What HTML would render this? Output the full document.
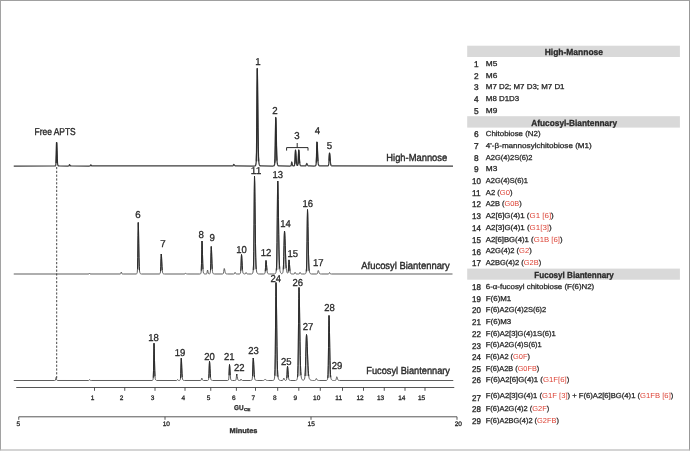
<!DOCTYPE html>
<html><head><meta charset="utf-8"><title>Glycan electropherograms</title>
<style>
html,body{margin:0;padding:0;background:#fff;}
body{width:690px;height:451px;overflow:hidden;position:relative;font-family:"Liberation Sans",sans-serif;}
#frame{position:absolute;left:0;top:0;width:690px;height:451px;box-sizing:border-box;border-left:1px solid #a2a2a2;border-top:1px solid #a0a0a0;border-right:1px solid #989898;border-bottom:2px solid #d4d4d4;}
svg{position:absolute;left:0;top:0;will-change:transform;opacity:0.999;}
svg text{font-family:"Liberation Sans",sans-serif;white-space:pre;text-rendering:geometricPrecision;}
</style></head><body>
<svg width="690" height="451" viewBox="0 0 690 451">
<path d="M13.75 166.00 L54.75 165.99 L55.00 165.97 L55.25 165.90 L55.50 165.71 L55.75 165.19 L56.00 162.99 L56.25 154.65 L56.50 142.60 L56.75 142.60 L57.00 150.29 L57.25 158.37 L57.50 162.99 L57.75 164.80 L58.00 165.43 L58.25 165.71 L58.50 165.86 L58.75 165.94 L59.00 165.97 L59.25 165.99 L68.25 166.00 L68.50 165.98 L68.75 165.95 L69.00 165.77 L69.25 165.15 L69.50 164.60 L69.75 164.88 L70.00 165.41 L70.25 165.77 L70.50 165.92 L70.75 165.97 L71.00 165.98 L71.25 165.99 L89.50 166.00 L89.75 165.99 L90.00 165.96 L90.25 165.81 L90.50 165.27 L90.75 164.80 L91.00 165.04 L91.25 165.49 L91.50 165.81 L91.75 165.93 L92.00 165.97 L92.25 165.99 L92.50 165.99 L231.75 165.99 L232.00 165.99 L232.25 165.98 L232.50 165.95 L232.75 165.89 L233.00 165.71 L233.25 165.30 L233.50 164.77 L233.75 164.50 L234.00 164.62 L234.25 164.94 L234.50 165.30 L234.75 165.60 L235.00 165.79 L235.25 165.89 L235.50 165.94 L235.75 165.96 L236.00 165.98 L236.25 165.99 L236.50 165.99 L254.50 166.00 L254.75 165.99 L255.00 165.95 L255.25 165.85 L255.50 165.60 L255.75 165.07 L256.00 163.97 L256.25 161.24 L256.50 152.26 L256.75 127.68 L257.00 89.32 L257.25 68.50 L257.50 78.41 L257.75 102.21 L258.00 127.68 L258.25 146.22 L258.50 156.49 L258.75 161.24 L259.00 163.36 L259.25 164.43 L259.50 165.07 L259.75 165.47 L260.00 165.71 L260.25 165.85 L260.50 165.93 L260.75 165.97 L261.00 165.99 L261.25 165.99 L273.00 166.00 L273.25 165.99 L273.50 165.96 L273.75 165.90 L274.00 165.75 L274.25 165.44 L274.50 164.82 L274.75 163.23 L275.00 158.20 L275.25 145.55 L275.50 127.14 L275.75 117.50 L276.00 122.06 L276.25 133.21 L276.50 145.55 L276.75 154.98 L277.00 160.52 L277.25 163.23 L277.50 164.47 L277.75 165.08 L278.00 165.44 L278.25 165.67 L278.50 165.81 L278.75 165.90 L279.00 165.95 L279.25 165.97 L279.50 165.99 L279.75 165.99 L290.00 166.00 L290.25 165.99 L290.50 165.96 L290.75 165.90 L291.00 165.71 L291.25 164.93 L291.50 163.17 L291.75 162.00 L292.00 162.57 L292.25 163.82 L292.50 164.93 L292.75 165.55 L293.00 165.80 L293.25 165.90 L293.50 165.93 L293.75 165.92 L294.00 165.85 L294.25 165.70 L294.50 165.30 L294.75 163.95 L295.00 160.03 L295.25 153.59 L295.50 150.00 L295.75 151.72 L296.00 155.78 L296.25 160.03 L296.50 163.00 L296.75 164.57 L297.00 165.25 L297.25 165.48 L297.50 165.47 L297.75 165.17 L298.00 163.88 L298.25 159.99 L298.50 153.57 L298.75 149.99 L299.00 151.71 L299.25 155.78 L299.50 160.03 L299.75 163.01 L300.00 164.59 L300.25 165.30 L300.50 165.61 L300.75 165.77 L301.00 165.87 L301.25 165.93 L301.50 165.96 L301.75 165.98 L302.00 165.99 L304.75 165.99 L305.00 165.98 L305.25 165.96 L305.50 165.92 L305.75 165.82 L306.00 165.51 L306.25 164.83 L306.50 163.94 L306.75 163.50 L307.00 163.71 L307.25 164.23 L307.50 164.83 L307.75 165.33 L308.00 165.65 L308.25 165.82 L308.50 165.90 L308.75 165.94 L309.00 165.96 L309.25 165.98 L309.50 165.99 L309.75 165.99 L314.50 166.00 L314.75 165.99 L315.00 165.96 L315.25 165.90 L315.50 165.77 L315.75 165.50 L316.00 164.83 L316.25 162.62 L316.50 156.57 L316.75 147.12 L317.00 142.00 L317.25 144.44 L317.50 150.30 L317.75 156.57 L318.00 161.13 L318.25 163.66 L318.50 164.83 L318.75 165.35 L319.00 165.61 L319.25 165.77 L319.50 165.87 L319.75 165.93 L320.00 165.96 L320.25 165.98 L320.50 165.99 L327.25 165.99 L327.50 165.97 L327.75 165.93 L328.00 165.85 L328.25 165.68 L328.50 165.26 L328.75 163.91 L329.00 160.52 L329.25 155.58 L329.50 153.00 L329.75 154.22 L330.00 157.21 L330.25 160.52 L330.50 163.05 L330.75 164.53 L331.00 165.26 L331.25 165.59 L331.50 165.75 L331.75 165.85 L332.00 165.91 L332.25 165.95 L332.50 165.97 L332.75 165.99 L333.00 165.99 L453.00 166.00" fill="none" stroke="#3c3c3c" stroke-width="1.25" stroke-linejoin="round"/>
<path d="M56.00 162.99 L56.25 154.65 L56.50 142.60 L56.75 142.60 L57.00 150.29 L57.25 158.37 L57.50 162.99 M256.25 161.24 L256.50 152.26 L256.75 127.68 L257.00 89.32 L257.25 68.50 L257.50 78.41 L257.75 102.21 L258.00 127.68 L258.25 146.22 L258.50 156.49 L258.75 161.24 M274.75 163.23 L275.00 158.20 L275.25 145.55 L275.50 127.14 L275.75 117.50 L276.00 122.06 L276.25 133.21 L276.50 145.55 L276.75 154.98 L277.00 160.52 M294.75 163.95 L295.00 160.03 L295.25 153.59 L295.50 150.00 L295.75 151.72 L296.00 155.78 L296.25 160.03 L296.50 163.00 M298.00 163.88 L298.25 159.99 L298.50 153.57 L298.75 149.99 L299.00 151.71 L299.25 155.78 L299.50 160.03 L299.75 163.01 M316.25 162.62 L316.50 156.57 L316.75 147.12 L317.00 142.00 L317.25 144.44 L317.50 150.30 L317.75 156.57 L318.00 161.13 M329.00 160.52 L329.25 155.58 L329.50 153.00 L329.75 154.22 L330.00 157.21 L330.25 160.52" fill="#2a2a2a" fill-opacity="0.3" stroke="#2a2a2a" stroke-width="0.95" stroke-linejoin="round"/>
<path d="M13.75 274.00 L88.50 274.00 L88.75 273.98 L89.00 273.93 L89.25 273.53 L89.50 273.00 L89.75 273.29 L90.00 273.73 L90.25 273.93 L90.50 273.98 L90.75 273.99 L120.00 273.99 L120.25 273.98 L120.50 273.93 L120.75 273.68 L121.00 272.78 L121.25 272.00 L121.50 272.40 L121.75 273.16 L122.00 273.68 L122.25 273.89 L122.50 273.95 L122.75 273.98 L123.00 273.99 L123.25 274.00 L136.00 273.99 L136.25 273.97 L136.50 273.90 L136.75 273.71 L137.00 273.29 L137.25 272.30 L137.50 268.92 L137.75 257.43 L138.00 235.62 L138.25 222.50 L138.50 228.84 L138.75 243.34 L139.00 257.43 L139.25 266.36 L139.50 270.58 L139.75 272.30 L140.00 273.06 L140.25 273.47 L140.50 273.71 L140.75 273.85 L141.00 273.93 L141.25 273.97 L141.50 273.99 L141.75 274.00 L159.00 273.99 L159.25 273.98 L159.50 273.93 L159.75 273.83 L160.00 273.63 L160.25 273.12 L160.50 271.44 L160.75 266.53 L161.00 258.49 L161.25 254.00 L161.50 256.14 L161.75 261.23 L162.00 266.53 L162.25 270.26 L162.50 272.24 L162.75 273.12 L163.00 273.51 L163.25 273.71 L163.50 273.83 L163.75 273.91 L164.00 273.95 L164.25 273.98 L164.50 273.99 L164.75 274.00 L184.25 274.00 L184.50 273.99 L184.75 273.96 L185.00 273.84 L185.25 273.39 L185.50 273.00 L185.75 273.20 L186.00 273.58 L186.25 273.84 L186.50 273.94 L186.75 273.98 L187.00 273.99 L187.25 273.99 L199.75 274.00 L200.00 273.98 L200.25 273.94 L200.50 273.82 L200.75 273.55 L201.00 272.91 L201.25 270.75 L201.50 263.38 L201.75 249.41 L202.00 241.00 L202.25 245.06 L202.50 254.35 L202.75 263.38 L203.00 269.11 L203.25 271.81 L203.50 272.91 L203.75 273.40 L204.00 273.66 L204.25 273.82 L204.50 273.91 L204.75 273.96 L205.00 273.98 L205.25 273.99 L205.75 273.99 L206.00 273.99 L206.25 273.96 L206.50 273.90 L206.75 273.71 L207.00 272.93 L207.25 271.17 L207.50 270.00 L207.75 270.57 L208.00 271.82 L208.25 272.93 L208.50 273.55 L208.75 273.80 L209.00 273.89 L209.25 273.91 L209.50 273.88 L209.75 273.76 L210.00 273.48 L210.25 272.79 L210.50 270.47 L210.75 263.74 L211.00 252.67 L211.25 246.50 L211.50 249.45 L211.75 256.44 L212.00 263.74 L212.25 268.86 L212.50 271.58 L212.75 272.80 L213.00 273.33 L213.25 273.61 L213.50 273.77 L213.75 273.87 L214.00 273.93 L214.25 273.97 L214.50 273.98 L214.75 273.99 L222.00 273.99 L222.25 273.98 L222.50 273.96 L222.75 273.92 L223.00 273.83 L223.25 273.60 L223.50 272.92 L223.75 271.43 L224.00 269.47 L224.25 268.50 L224.50 268.96 L224.75 270.10 L225.00 271.43 L225.25 272.53 L225.50 273.22 L225.75 273.60 L226.00 273.78 L226.25 273.87 L226.50 273.92 L226.75 273.95 L227.00 273.97 L227.25 273.98 L227.50 273.99 L227.75 273.99 L233.50 273.99 L233.75 273.98 L234.00 273.96 L234.25 273.88 L234.50 273.54 L234.75 272.80 L235.00 272.30 L235.25 272.54 L235.50 273.07 L235.75 273.54 L236.00 273.81 L236.25 273.92 L236.50 273.96 L236.75 273.98 L237.00 273.99 L237.25 273.99 L239.00 274.00 L239.25 273.99 L239.50 273.96 L239.75 273.90 L240.00 273.77 L240.25 273.53 L240.50 272.89 L240.75 270.86 L241.00 265.78 L241.25 258.37 L241.50 254.50 L241.75 256.34 L242.00 260.82 L242.25 265.78 L242.50 269.57 L242.75 271.80 L243.00 272.89 L243.25 273.38 L243.50 273.63 L243.75 273.77 L244.00 273.87 L244.25 273.92 L244.50 273.95 L244.75 273.96 L245.00 273.95 L245.25 273.89 L245.50 273.60 L245.75 272.94 L246.00 272.50 L246.25 272.71 L246.50 273.18 L246.75 273.60 L247.00 273.83 L247.25 273.93 L247.50 273.96 L247.75 273.98 L248.00 273.99 L248.25 273.99 L251.25 274.00 L251.50 273.99 L251.75 273.97 L252.00 273.91 L252.25 273.78 L252.50 273.51 L252.75 273.01 L253.00 272.09 L253.25 270.16 L253.50 265.00 L253.75 251.29 L254.00 224.25 L254.25 191.55 L254.50 176.00 L254.75 183.26 L255.00 201.81 L255.25 224.25 L255.50 243.77 L255.75 257.23 L256.00 265.00 L256.25 268.99 L256.50 271.00 L256.75 272.09 L257.00 272.76 L257.25 273.21 L257.50 273.51 L257.75 273.71 L258.00 273.84 L258.25 273.91 L258.50 273.95 L258.75 273.98 L259.00 273.99 L259.25 273.99 L263.50 273.99 L263.75 273.98 L264.00 273.95 L264.25 273.90 L264.50 273.79 L264.75 273.58 L265.00 273.01 L265.25 271.36 L265.50 267.70 L265.75 262.89 L266.00 260.50 L266.25 261.62 L266.50 264.44 L266.75 267.70 L267.00 270.38 L267.25 272.10 L267.50 273.01 L267.75 273.45 L268.00 273.67 L268.25 273.79 L268.50 273.87 L268.75 273.92 L269.00 273.95 L269.25 273.97 L269.50 273.99 L269.75 273.99 L274.00 274.00 L274.25 273.99 L274.50 273.97 L274.75 273.93 L275.00 273.85 L275.25 273.69 L275.50 273.40 L275.75 272.92 L276.00 272.13 L276.25 270.62 L276.50 267.20 L276.75 259.04 L277.00 242.45 L277.25 217.23 L277.50 191.93 L277.75 181.00 L278.00 186.04 L278.25 199.48 L278.50 217.23 L278.75 234.79 L279.00 249.07 L279.25 259.04 L279.50 265.19 L279.75 268.69 L280.00 270.62 L280.25 271.74 L280.50 272.44 L280.75 272.92 L281.00 273.25 L281.25 273.48 L281.50 273.61 L281.75 273.66 L282.00 273.62 L282.25 273.48 L282.50 273.21 L282.75 272.73 L283.00 271.74 L283.25 269.51 L283.50 264.81 L283.75 256.55 L284.00 245.44 L284.25 235.22 L284.50 231.00 L284.75 232.93 L285.00 238.20 L285.25 245.44 L285.50 253.04 L285.75 259.71 L286.00 264.81 L286.25 268.29 L286.50 270.46 L286.75 271.74 L287.00 272.47 L287.25 272.88 L287.50 273.09 L287.75 273.13 L288.00 272.82 L288.25 271.49 L288.50 267.92 L288.75 262.66 L289.00 259.92 L289.25 261.27 L289.50 264.51 L289.75 268.08 L290.00 270.81 L290.25 272.41 L290.50 273.20 L290.75 273.56 L291.00 273.73 L291.25 273.84 L291.50 273.90 L291.75 273.95 L292.00 273.97 L292.25 273.98 L292.50 273.99 L293.50 273.99 L293.75 273.98 L294.00 273.96 L294.25 273.88 L294.50 273.54 L294.75 272.80 L295.00 272.30 L295.25 272.54 L295.50 273.07 L295.75 273.54 L296.00 273.81 L296.25 273.92 L296.50 273.96 L296.75 273.98 L297.00 273.99 L297.25 273.99 L298.50 273.99 L298.75 273.98 L299.00 273.96 L299.25 273.88 L299.50 273.54 L299.75 272.80 L300.00 272.30 L300.25 272.54 L300.50 273.07 L300.75 273.54 L301.00 273.81 L301.25 273.92 L301.50 273.96 L301.75 273.98 L302.00 273.99 L302.25 273.99 L304.50 273.99 L304.75 273.98 L305.00 273.94 L305.25 273.86 L305.50 273.68 L305.75 273.35 L306.00 272.74 L306.25 271.47 L306.50 268.08 L306.75 259.06 L307.00 241.26 L307.25 219.73 L307.50 209.50 L307.75 214.28 L308.00 226.49 L308.25 241.26 L308.50 254.10 L308.75 262.96 L309.00 268.08 L309.25 270.71 L309.50 272.02 L309.75 272.74 L310.00 273.19 L310.25 273.48 L310.50 273.68 L310.75 273.81 L311.00 273.89 L311.25 273.94 L311.50 273.97 L311.75 273.98 L312.00 273.99 L316.00 274.00 L316.25 273.99 L316.50 273.97 L316.75 273.95 L317.00 273.89 L317.25 273.74 L317.50 273.32 L317.75 272.37 L318.00 271.12 L318.25 270.50 L318.50 270.79 L318.75 271.52 L319.00 272.37 L319.25 273.06 L319.50 273.51 L319.75 273.74 L320.00 273.86 L320.25 273.91 L320.50 273.95 L320.75 273.97 L321.00 273.98 L321.25 273.99 L321.50 273.99 L328.00 273.99 L328.25 273.99 L328.50 273.96 L328.75 273.89 L329.00 273.60 L329.25 272.94 L329.50 272.50 L329.75 272.71 L330.00 273.18 L330.25 273.60 L330.50 273.83 L330.75 273.93 L331.00 273.96 L331.25 273.98 L331.50 273.99 L331.75 273.99 L452.50 274.00" fill="none" stroke="#555" stroke-width="0.95" stroke-linejoin="round"/>
<path d="M137.50 268.92 L137.75 257.43 L138.00 235.62 L138.25 222.50 L138.50 228.84 L138.75 243.34 L139.00 257.43 L139.25 266.36 L139.50 270.58 M160.50 271.44 L160.75 266.53 L161.00 258.49 L161.25 254.00 L161.50 256.14 L161.75 261.23 L162.00 266.53 L162.25 270.26 M201.25 270.75 L201.50 263.38 L201.75 249.41 L202.00 241.00 L202.25 245.06 L202.50 254.35 L202.75 263.38 L203.00 269.11 M210.50 270.47 L210.75 263.74 L211.00 252.67 L211.25 246.50 L211.50 249.45 L211.75 256.44 L212.00 263.74 L212.25 268.86 M240.75 270.86 L241.00 265.78 L241.25 258.37 L241.50 254.50 L241.75 256.34 L242.00 260.82 L242.25 265.78 L242.50 269.57 M253.25 270.16 L253.50 265.00 L253.75 251.29 L254.00 224.25 L254.25 191.55 L254.50 176.00 L254.75 183.26 L255.00 201.81 L255.25 224.25 L255.50 243.77 L255.75 257.23 L256.00 265.00 L256.25 268.99 M265.25 271.36 L265.50 267.70 L265.75 262.89 L266.00 260.50 L266.25 261.62 L266.50 264.44 L266.75 267.70 L267.00 270.38 M276.25 270.62 L276.50 267.20 L276.75 259.04 L277.00 242.45 L277.25 217.23 L277.50 191.93 L277.75 181.00 L278.00 186.04 L278.25 199.48 L278.50 217.23 L278.75 234.79 L279.00 249.07 L279.25 259.04 L279.50 265.19 L279.75 268.69 M283.25 269.51 L283.50 264.81 L283.75 256.55 L284.00 245.44 L284.25 235.22 L284.50 231.00 L284.75 232.93 L285.00 238.20 L285.25 245.44 L285.50 253.04 L285.75 259.71 L286.00 264.81 L286.25 268.29 M288.25 271.49 L288.50 267.92 L288.75 262.66 L289.00 259.92 L289.25 261.27 L289.50 264.51 L289.75 268.08 L290.00 270.81 M306.25 271.47 L306.50 268.08 L306.75 259.06 L307.00 241.26 L307.25 219.73 L307.50 209.50 L307.75 214.28 L308.00 226.49 L308.25 241.26 L308.50 254.10 L308.75 262.96 L309.00 268.08 L309.25 270.71" fill="#2a2a2a" fill-opacity="0.3" stroke="#2a2a2a" stroke-width="0.95" stroke-linejoin="round"/>
<path d="M13.75 380.50 L54.50 380.50 L54.75 380.49 L55.00 380.47 L55.25 380.39 L55.50 380.02 L55.75 378.67 L56.00 377.50 L56.25 378.10 L56.50 379.24 L56.75 380.02 L57.00 380.33 L57.25 380.43 L57.50 380.47 L57.75 380.48 L58.00 380.49 L88.25 380.50 L88.50 380.49 L88.75 380.46 L89.00 380.34 L89.25 379.89 L89.50 379.50 L89.75 379.70 L90.00 380.08 L90.25 380.34 L90.50 380.44 L90.75 380.48 L91.00 380.49 L91.25 380.49 L152.00 380.49 L152.25 380.46 L152.50 380.37 L152.75 380.14 L153.00 379.59 L153.25 377.78 L153.50 370.52 L153.75 354.11 L154.00 343.25 L154.25 348.57 L154.50 360.19 L154.75 370.52 L155.00 376.29 L155.25 378.68 L155.50 379.59 L155.75 380.01 L156.00 380.24 L156.25 380.37 L156.50 380.44 L156.75 380.48 L157.00 380.49 L176.25 380.50 L176.50 380.49 L176.75 380.46 L177.00 380.34 L177.25 379.89 L177.50 379.50 L177.75 379.70 L178.00 380.08 L178.25 380.34 L178.50 380.44 L178.75 380.47 L179.00 380.49 L179.25 380.48 L179.50 380.45 L179.75 380.38 L180.00 380.19 L180.25 379.77 L180.50 378.31 L180.75 373.34 L181.00 363.92 L181.25 358.25 L181.50 360.99 L181.75 367.25 L182.00 373.34 L182.25 377.20 L182.50 379.02 L182.75 379.77 L183.00 380.09 L183.25 380.27 L183.50 380.38 L183.75 380.44 L184.00 380.47 L184.25 380.49 L184.50 380.49 L200.25 380.49 L200.50 380.48 L200.75 380.44 L201.00 380.32 L201.25 379.83 L201.50 378.73 L201.75 378.00 L202.00 378.36 L202.25 379.14 L202.50 379.83 L202.75 380.22 L203.00 380.38 L203.25 380.44 L203.50 380.47 L203.75 380.48 L204.00 380.49 L207.25 380.49 L207.50 380.48 L207.75 380.44 L208.00 380.34 L208.25 380.14 L208.50 379.66 L208.75 378.03 L209.00 373.31 L209.25 365.57 L209.50 361.25 L209.75 363.31 L210.00 368.21 L210.25 373.31 L210.50 376.90 L210.75 378.81 L211.00 379.66 L211.25 380.03 L211.50 380.22 L211.75 380.34 L212.00 380.41 L212.25 380.45 L212.50 380.48 L212.75 380.49 L213.00 380.50 L227.50 380.49 L227.75 380.47 L228.00 380.41 L228.25 380.28 L228.50 379.97 L228.75 378.92 L229.00 375.35 L229.25 368.58 L229.50 364.50 L229.75 366.47 L230.00 370.97 L230.25 375.35 L230.50 378.13 L230.75 379.44 L231.00 379.97 L231.25 380.21 L231.50 380.34 L231.75 380.41 L232.00 380.45 L232.25 380.48 L232.50 380.49 L234.75 380.49 L235.00 380.48 L235.25 380.45 L235.50 380.38 L235.75 380.23 L236.00 379.70 L236.25 378.17 L236.50 375.65 L236.75 374.25 L237.00 374.92 L237.25 376.51 L237.50 378.17 L237.75 379.33 L238.00 379.95 L238.25 380.23 L238.50 380.35 L238.75 380.41 L239.00 380.45 L239.25 380.47 L239.50 380.48 L239.75 380.49 L240.00 380.48 L240.25 380.44 L240.50 380.26 L240.75 379.58 L241.00 379.00 L241.25 379.30 L241.50 379.87 L241.75 380.26 L242.00 380.41 L242.25 380.46 L242.50 380.48 L242.75 380.49 L250.50 380.50 L250.75 380.49 L251.00 380.47 L251.25 380.42 L251.50 380.33 L251.75 380.16 L252.00 379.80 L252.25 378.85 L252.50 376.10 L252.75 370.00 L253.00 361.98 L253.25 358.00 L253.50 359.87 L253.75 364.56 L254.00 370.00 L254.25 374.47 L254.50 377.33 L254.75 378.85 L255.00 379.59 L255.25 379.95 L255.50 380.16 L255.75 380.28 L256.00 380.37 L256.25 380.42 L256.50 380.46 L256.75 380.48 L257.00 380.49 L257.25 380.49 L262.75 380.49 L263.00 380.49 L263.25 380.48 L263.50 380.46 L263.75 380.41 L264.00 380.31 L264.25 380.09 L264.50 379.77 L264.75 379.44 L265.00 379.30 L265.25 379.36 L265.50 379.54 L265.75 379.77 L266.00 379.99 L266.25 380.18 L266.50 380.31 L266.75 380.39 L267.00 380.43 L267.25 380.46 L267.50 380.47 L267.75 380.48 L268.00 380.49 L268.25 380.49 L272.75 380.49 L273.00 380.48 L273.25 380.44 L273.50 380.35 L273.75 380.17 L274.00 379.83 L274.25 379.22 L274.50 378.12 L274.75 375.72 L275.00 369.43 L275.25 354.23 L275.50 327.07 L275.75 296.50 L276.00 282.50 L276.25 289.01 L276.50 305.91 L276.75 327.07 L277.00 346.41 L277.25 360.62 L277.50 369.43 L277.75 374.26 L278.00 376.77 L278.25 378.12 L278.50 378.92 L278.75 379.46 L279.00 379.83 L279.25 380.08 L279.50 380.24 L279.75 380.35 L280.00 380.42 L280.25 380.45 L280.50 380.48 L280.75 380.49 L281.00 380.49 L282.00 380.49 L282.25 380.48 L282.50 380.45 L282.75 380.39 L283.00 380.18 L283.25 379.57 L283.50 378.56 L283.75 378.00 L284.00 378.27 L284.25 378.90 L284.50 379.57 L284.75 380.03 L285.00 380.28 L285.25 380.38 L285.50 380.41 L285.75 380.39 L286.00 380.31 L286.25 380.14 L286.50 379.68 L286.75 378.20 L287.00 374.49 L287.25 369.08 L287.50 366.25 L287.75 367.59 L288.00 370.87 L288.25 374.49 L288.50 377.26 L288.75 378.89 L289.00 379.69 L289.25 380.05 L289.50 380.23 L289.75 380.34 L290.00 380.40 L290.25 380.44 L290.50 380.47 L290.75 380.48 L291.00 380.49 L295.25 380.50 L295.50 380.49 L295.75 380.47 L296.00 380.43 L296.25 380.35 L296.50 380.19 L296.75 379.90 L297.00 379.42 L297.25 378.63 L297.50 377.12 L297.75 373.70 L298.00 365.54 L298.25 348.95 L298.50 323.73 L298.75 298.43 L299.00 287.50 L299.25 292.54 L299.50 305.98 L299.75 323.73 L300.00 341.29 L300.25 355.57 L300.50 365.54 L300.75 371.69 L301.00 375.19 L301.25 377.12 L301.50 378.24 L301.75 378.94 L302.00 379.42 L302.25 379.75 L302.50 379.99 L302.75 380.14 L303.00 380.21 L303.25 380.23 L303.50 380.17 L303.75 380.05 L304.00 379.85 L304.25 379.52 L304.50 378.98 L304.75 377.96 L305.00 375.96 L305.25 372.15 L305.50 365.70 L305.75 356.55 L306.00 346.22 L306.25 337.78 L306.50 334.50 L306.75 335.99 L307.00 340.17 L307.25 346.22 L307.50 353.12 L307.75 359.85 L308.00 365.70 L308.25 370.32 L308.50 373.68 L308.75 375.96 L309.00 377.45 L309.25 378.38 L309.50 378.98 L309.75 379.38 L310.00 379.66 L310.25 379.87 L310.50 380.03 L310.75 380.15 L311.00 380.24 L311.25 380.32 L311.50 380.37 L311.75 380.41 L312.00 380.44 L312.25 380.46 L312.50 380.47 L312.75 380.48 L313.00 380.49 L313.25 380.49 L314.25 380.49 L314.50 380.48 L314.75 380.47 L315.00 380.44 L315.25 380.35 L315.50 380.11 L315.75 379.57 L316.00 378.85 L316.25 378.50 L316.50 378.67 L316.75 379.08 L317.00 379.57 L317.25 379.96 L317.50 380.22 L317.75 380.35 L318.00 380.42 L318.25 380.45 L318.50 380.47 L318.75 380.48 L319.00 380.49 L319.25 380.49 L326.00 380.49 L326.25 380.48 L326.50 380.44 L326.75 380.35 L327.00 380.18 L327.25 379.84 L327.50 379.23 L327.75 377.95 L328.00 374.53 L328.25 365.44 L328.50 347.50 L328.75 325.81 L329.00 315.50 L329.25 320.32 L329.50 332.62 L329.75 347.50 L330.00 360.45 L330.25 369.38 L330.50 374.53 L330.75 377.18 L331.00 378.51 L331.25 379.23 L331.50 379.68 L331.75 379.98 L332.00 380.18 L332.25 380.31 L332.50 380.39 L332.75 380.44 L333.00 380.47 L333.25 380.48 L333.50 380.49 L334.50 380.49 L334.75 380.49 L335.00 380.47 L335.25 380.44 L335.50 380.38 L335.75 380.23 L336.00 379.77 L336.25 378.75 L336.50 377.41 L336.75 376.75 L337.00 377.06 L337.25 377.84 L337.50 378.75 L337.75 379.49 L338.00 379.97 L338.25 380.23 L338.50 380.35 L338.75 380.41 L339.00 380.44 L339.25 380.46 L339.50 380.48 L339.75 380.49 L340.00 380.49 L453.25 380.50" fill="none" stroke="#555" stroke-width="0.95" stroke-linejoin="round"/>
<path d="M153.25 377.78 L153.50 370.52 L153.75 354.11 L154.00 343.25 L154.25 348.57 L154.50 360.19 L154.75 370.52 L155.00 376.29 M180.50 378.31 L180.75 373.34 L181.00 363.92 L181.25 358.25 L181.50 360.99 L181.75 367.25 L182.00 373.34 L182.25 377.20 M208.75 378.03 L209.00 373.31 L209.25 365.57 L209.50 361.25 L209.75 363.31 L210.00 368.21 L210.25 373.31 L210.50 376.90 M229.00 375.35 L229.25 368.58 L229.50 364.50 L229.75 366.47 L230.00 370.97 L230.25 375.35 M236.50 375.65 L236.75 374.25 L237.00 374.92 M252.50 376.10 L252.75 370.00 L253.00 361.98 L253.25 358.00 L253.50 359.87 L253.75 364.56 L254.00 370.00 L254.25 374.47 L254.50 377.33 M274.75 375.72 L275.00 369.43 L275.25 354.23 L275.50 327.07 L275.75 296.50 L276.00 282.50 L276.25 289.01 L276.50 305.91 L276.75 327.07 L277.00 346.41 L277.25 360.62 L277.50 369.43 L277.75 374.26 L278.00 376.77 M286.75 378.20 L287.00 374.49 L287.25 369.08 L287.50 366.25 L287.75 367.59 L288.00 370.87 L288.25 374.49 L288.50 377.26 M297.50 377.12 L297.75 373.70 L298.00 365.54 L298.25 348.95 L298.50 323.73 L298.75 298.43 L299.00 287.50 L299.25 292.54 L299.50 305.98 L299.75 323.73 L300.00 341.29 L300.25 355.57 L300.50 365.54 L300.75 371.69 L301.00 375.19 M305.00 375.96 L305.25 372.15 L305.50 365.70 L305.75 356.55 L306.00 346.22 L306.25 337.78 L306.50 334.50 L306.75 335.99 L307.00 340.17 L307.25 346.22 L307.50 353.12 L307.75 359.85 L308.00 365.70 L308.25 370.32 L308.50 373.68 L308.75 375.96 M327.75 377.95 L328.00 374.53 L328.25 365.44 L328.50 347.50 L328.75 325.81 L329.00 315.50 L329.25 320.32 L329.50 332.62 L329.75 347.50 L330.00 360.45 L330.25 369.38 L330.50 374.53 L330.75 377.18" fill="#2a2a2a" fill-opacity="0.3" stroke="#2a2a2a" stroke-width="0.95" stroke-linejoin="round"/>
<line x1="56.7" y1="167" x2="56.7" y2="378.5" stroke="#333" stroke-width="0.9" stroke-dasharray="2.2 1.6"/>
<path d="M286.6 150.6 V147.6 H308 V150.6 M297.2 147.6 V143" fill="none" stroke="#2a2a2a" stroke-width="1.0"/>
<path d="M16.25 387.50 H454.25 M94.50 387.50 V390.80 M124.75 387.50 V390.80 M155.00 387.50 V390.80 M185.00 387.50 V390.80 M210.75 387.50 V390.80 M236.40 387.50 V390.80 M255.50 387.50 V390.80 M277.70 387.50 V390.80 M298.80 387.50 V390.80 M320.30 387.50 V390.80 M342.50 387.50 V390.80 M363.50 387.50 V390.80 M384.25 387.50 V390.80 M405.00 387.50 V390.80 M425.00 387.50 V390.80" fill="none" stroke="#444" stroke-width="0.9"/>
<path d="M18.75 416.80 H457 M18.75 416.80 V419.80 M165 416.80 V419.80 M311 416.80 V419.80 M457 416.80 V419.80" fill="none" stroke="#444" stroke-width="0.9"/>
<rect x="467.2" y="45.70" width="212.7" height="11.30" fill="#d9d9d9"/>
<rect x="467.2" y="116.20" width="212.7" height="11.40" fill="#d9d9d9"/>
<rect x="467.2" y="268.60" width="212.7" height="11.10" fill="#d9d9d9"/>
<text transform="translate(34.60 134.60) scale(0.8404 1)" text-anchor="start" font-size="10.0" font-weight="normal" fill="#2a2a2a" stroke="#2a2a2a" stroke-width="0.38">Free APTS</text>
<text transform="translate(386.30 161.00) scale(0.9190 1)" text-anchor="start" font-size="10.2" font-weight="normal" fill="#2a2a2a" stroke="#2a2a2a" stroke-width="0.38">High-Mannose</text>
<text transform="translate(361.30 268.50) scale(0.9237 1)" text-anchor="start" font-size="10.2" font-weight="normal" fill="#2a2a2a" stroke="#2a2a2a" stroke-width="0.38">Afucosyl Biantennary</text>
<text transform="translate(366.30 374.00) scale(0.9067 1)" text-anchor="start" font-size="10.2" font-weight="normal" fill="#2a2a2a" stroke="#2a2a2a" stroke-width="0.38">Fucosyl Biantennary</text>
<text transform="translate(258.00 64.85) scale(0.9690 1)" text-anchor="middle" font-size="10.0" font-weight="normal" fill="#2a2a2a" stroke="#2a2a2a" stroke-width="0.3">1</text>
<text transform="translate(275.00 113.85) scale(0.9690 1)" text-anchor="middle" font-size="10.0" font-weight="normal" fill="#2a2a2a" stroke="#2a2a2a" stroke-width="0.3">2</text>
<text transform="translate(297.00 138.85) scale(0.9690 1)" text-anchor="middle" font-size="10.0" font-weight="normal" fill="#2a2a2a" stroke="#2a2a2a" stroke-width="0.3">3</text>
<text transform="translate(317.50 134.10) scale(0.9690 1)" text-anchor="middle" font-size="10.0" font-weight="normal" fill="#2a2a2a" stroke="#2a2a2a" stroke-width="0.3">4</text>
<text transform="translate(329.50 149.10) scale(0.9690 1)" text-anchor="middle" font-size="10.0" font-weight="normal" fill="#2a2a2a" stroke="#2a2a2a" stroke-width="0.3">5</text>
<text transform="translate(138.00 217.60) scale(0.9690 1)" text-anchor="middle" font-size="10.0" font-weight="normal" fill="#2a2a2a" stroke="#2a2a2a" stroke-width="0.3">6</text>
<text transform="translate(163.00 246.85) scale(0.9690 1)" text-anchor="middle" font-size="10.0" font-weight="normal" fill="#2a2a2a" stroke="#2a2a2a" stroke-width="0.3">7</text>
<text transform="translate(201.25 237.60) scale(0.9690 1)" text-anchor="middle" font-size="10.0" font-weight="normal" fill="#2a2a2a" stroke="#2a2a2a" stroke-width="0.3">8</text>
<text transform="translate(212.25 241.35) scale(0.9690 1)" text-anchor="middle" font-size="10.0" font-weight="normal" fill="#2a2a2a" stroke="#2a2a2a" stroke-width="0.3">9</text>
<text transform="translate(241.50 252.60) scale(0.9492 1)" text-anchor="middle" font-size="10.0" font-weight="normal" fill="#2a2a2a" stroke="#2a2a2a" stroke-width="0.3">10</text>
<text transform="translate(256.00 173.85) scale(1.0000 1)" text-anchor="middle" font-size="10.0" font-weight="normal" fill="#2a2a2a" stroke="#2a2a2a" stroke-width="0.3">11</text>
<text transform="translate(266.00 256.10) scale(0.9492 1)" text-anchor="middle" font-size="10.0" font-weight="normal" fill="#2a2a2a" stroke="#2a2a2a" stroke-width="0.3">12</text>
<text transform="translate(277.75 178.10) scale(0.9492 1)" text-anchor="middle" font-size="10.0" font-weight="normal" fill="#2a2a2a" stroke="#2a2a2a" stroke-width="0.3">13</text>
<text transform="translate(285.60 226.85) scale(0.9492 1)" text-anchor="middle" font-size="10.0" font-weight="normal" fill="#2a2a2a" stroke="#2a2a2a" stroke-width="0.3">14</text>
<text transform="translate(292.75 256.85) scale(0.9492 1)" text-anchor="middle" font-size="10.0" font-weight="normal" fill="#2a2a2a" stroke="#2a2a2a" stroke-width="0.3">15</text>
<text transform="translate(307.75 207.10) scale(0.9492 1)" text-anchor="middle" font-size="10.0" font-weight="normal" fill="#2a2a2a" stroke="#2a2a2a" stroke-width="0.3">16</text>
<text transform="translate(318.25 266.10) scale(0.9492 1)" text-anchor="middle" font-size="10.0" font-weight="normal" fill="#2a2a2a" stroke="#2a2a2a" stroke-width="0.3">17</text>
<text transform="translate(153.50 340.60) scale(0.9492 1)" text-anchor="middle" font-size="10.0" font-weight="normal" fill="#2a2a2a" stroke="#2a2a2a" stroke-width="0.3">18</text>
<text transform="translate(180.00 355.60) scale(0.9492 1)" text-anchor="middle" font-size="10.0" font-weight="normal" fill="#2a2a2a" stroke="#2a2a2a" stroke-width="0.3">19</text>
<text transform="translate(209.50 360.10) scale(0.9492 1)" text-anchor="middle" font-size="10.0" font-weight="normal" fill="#2a2a2a" stroke="#2a2a2a" stroke-width="0.3">20</text>
<text transform="translate(229.25 360.10) scale(0.9492 1)" text-anchor="middle" font-size="10.0" font-weight="normal" fill="#2a2a2a" stroke="#2a2a2a" stroke-width="0.3">21</text>
<text transform="translate(239.25 370.60) scale(0.9492 1)" text-anchor="middle" font-size="10.0" font-weight="normal" fill="#2a2a2a" stroke="#2a2a2a" stroke-width="0.3">22</text>
<text transform="translate(253.60 354.35) scale(0.9492 1)" text-anchor="middle" font-size="10.0" font-weight="normal" fill="#2a2a2a" stroke="#2a2a2a" stroke-width="0.3">23</text>
<text transform="translate(275.75 281.70) scale(0.9492 1)" text-anchor="middle" font-size="10.0" font-weight="normal" fill="#2a2a2a" stroke="#2a2a2a" stroke-width="0.3">24</text>
<text transform="translate(286.25 364.85) scale(0.9492 1)" text-anchor="middle" font-size="10.0" font-weight="normal" fill="#2a2a2a" stroke="#2a2a2a" stroke-width="0.3">25</text>
<text transform="translate(297.75 285.85) scale(0.9492 1)" text-anchor="middle" font-size="10.0" font-weight="normal" fill="#2a2a2a" stroke="#2a2a2a" stroke-width="0.3">26</text>
<text transform="translate(308.00 330.35) scale(0.9492 1)" text-anchor="middle" font-size="10.0" font-weight="normal" fill="#2a2a2a" stroke="#2a2a2a" stroke-width="0.3">27</text>
<text transform="translate(329.50 311.35) scale(0.9492 1)" text-anchor="middle" font-size="10.0" font-weight="normal" fill="#2a2a2a" stroke="#2a2a2a" stroke-width="0.3">28</text>
<text transform="translate(337.00 369.35) scale(0.9492 1)" text-anchor="middle" font-size="10.0" font-weight="normal" fill="#2a2a2a" stroke="#2a2a2a" stroke-width="0.3">29</text>
<text transform="translate(92.50 400.20) scale(1.0000 1)" text-anchor="middle" font-size="6.5" font-weight="normal" fill="#2a2a2a" stroke="#2a2a2a" stroke-width="0.3">1</text>
<text transform="translate(121.50 400.20) scale(1.0000 1)" text-anchor="middle" font-size="6.5" font-weight="normal" fill="#2a2a2a" stroke="#2a2a2a" stroke-width="0.3">2</text>
<text transform="translate(152.50 400.20) scale(1.0000 1)" text-anchor="middle" font-size="6.5" font-weight="normal" fill="#2a2a2a" stroke="#2a2a2a" stroke-width="0.3">3</text>
<text transform="translate(183.25 400.20) scale(1.0000 1)" text-anchor="middle" font-size="6.5" font-weight="normal" fill="#2a2a2a" stroke="#2a2a2a" stroke-width="0.3">4</text>
<text transform="translate(208.50 400.20) scale(1.0000 1)" text-anchor="middle" font-size="6.5" font-weight="normal" fill="#2a2a2a" stroke="#2a2a2a" stroke-width="0.3">5</text>
<text transform="translate(233.70 400.20) scale(1.0000 1)" text-anchor="middle" font-size="6.5" font-weight="normal" fill="#2a2a2a" stroke="#2a2a2a" stroke-width="0.3">6</text>
<text transform="translate(253.40 400.20) scale(1.0000 1)" text-anchor="middle" font-size="6.5" font-weight="normal" fill="#2a2a2a" stroke="#2a2a2a" stroke-width="0.3">7</text>
<text transform="translate(274.70 400.20) scale(1.0000 1)" text-anchor="middle" font-size="6.5" font-weight="normal" fill="#2a2a2a" stroke="#2a2a2a" stroke-width="0.3">8</text>
<text transform="translate(295.40 400.20) scale(1.0000 1)" text-anchor="middle" font-size="6.5" font-weight="normal" fill="#2a2a2a" stroke="#2a2a2a" stroke-width="0.3">9</text>
<text transform="translate(316.70 400.20) scale(1.0000 1)" text-anchor="middle" font-size="6.5" font-weight="normal" fill="#2a2a2a" stroke="#2a2a2a" stroke-width="0.3">10</text>
<text transform="translate(338.70 400.20) scale(1.0000 1)" text-anchor="middle" font-size="6.5" font-weight="normal" fill="#2a2a2a" stroke="#2a2a2a" stroke-width="0.3">11</text>
<text transform="translate(360.00 400.20) scale(1.0000 1)" text-anchor="middle" font-size="6.5" font-weight="normal" fill="#2a2a2a" stroke="#2a2a2a" stroke-width="0.3">12</text>
<text transform="translate(380.50 400.20) scale(1.0000 1)" text-anchor="middle" font-size="6.5" font-weight="normal" fill="#2a2a2a" stroke="#2a2a2a" stroke-width="0.3">13</text>
<text transform="translate(401.75 400.20) scale(1.0000 1)" text-anchor="middle" font-size="6.5" font-weight="normal" fill="#2a2a2a" stroke="#2a2a2a" stroke-width="0.3">14</text>
<text transform="translate(421.50 400.20) scale(1.0000 1)" text-anchor="middle" font-size="6.5" font-weight="normal" fill="#2a2a2a" stroke="#2a2a2a" stroke-width="0.3">15</text>
<text transform="translate(234.10 409.60) scale(0.9048 1)" text-anchor="start" font-size="7.0" font-weight="bold" fill="#2a2a2a" stroke="#2a2a2a" stroke-width="0.3">GU</text>
<text transform="translate(243.90 410.60) scale(1.1153 1)" text-anchor="start" font-size="4.2" font-weight="bold" fill="#2a2a2a" stroke="#2a2a2a" stroke-width="0.3">CE</text>
<text transform="translate(229.50 432.50) scale(1.0585 1)" text-anchor="start" font-size="7.0" font-weight="bold" fill="#2a2a2a" stroke="#2a2a2a" stroke-width="0.3">Minutes</text>
<text transform="translate(18.25 426.40) scale(1.0000 1)" text-anchor="middle" font-size="6.5" font-weight="normal" fill="#2a2a2a" stroke="#2a2a2a" stroke-width="0.3">5</text>
<text transform="translate(166.25 426.40) scale(1.0000 1)" text-anchor="middle" font-size="6.5" font-weight="normal" fill="#2a2a2a" stroke="#2a2a2a" stroke-width="0.3">10</text>
<text transform="translate(311.20 426.40) scale(1.0000 1)" text-anchor="middle" font-size="6.5" font-weight="normal" fill="#2a2a2a" stroke="#2a2a2a" stroke-width="0.3">15</text>
<text transform="translate(458.30 426.40) scale(1.0000 1)" text-anchor="middle" font-size="6.5" font-weight="normal" fill="#2a2a2a" stroke="#2a2a2a" stroke-width="0.3">20</text>
<text transform="translate(544.70 55.00) scale(0.9619 1)" text-anchor="start" font-size="8.8" font-weight="bold" fill="#2a2a2a" stroke="#2a2a2a" stroke-width="0.3">High-Mannose</text>
<text transform="translate(531.30 125.50) scale(0.9426 1)" text-anchor="start" font-size="8.8" font-weight="bold" fill="#2a2a2a" stroke="#2a2a2a" stroke-width="0.3">Afucosyl-Biantennary</text>
<text transform="translate(534.30 278.00) scale(0.9187 1)" text-anchor="start" font-size="8.8" font-weight="bold" fill="#2a2a2a" stroke="#2a2a2a" stroke-width="0.3">Fucosyl Biantennary</text>
<text transform="translate(476.40 67.10) scale(0.9989 1)" text-anchor="middle" font-size="8.3" font-weight="normal" fill="#2a2a2a" stroke="#2a2a2a" stroke-width="0.35">1</text>
<text transform="translate(485.80 66.05) scale(1.1500 1)" text-anchor="start" font-size="7.2" font-weight="normal" fill="#2a2a2a" stroke="#2a2a2a" stroke-width="0.28">M5</text>
<text transform="translate(476.40 78.70) scale(0.9989 1)" text-anchor="middle" font-size="8.3" font-weight="normal" fill="#2a2a2a" stroke="#2a2a2a" stroke-width="0.35">2</text>
<text transform="translate(485.80 77.65) scale(1.1500 1)" text-anchor="start" font-size="7.2" font-weight="normal" fill="#2a2a2a" stroke="#2a2a2a" stroke-width="0.28">M6</text>
<text transform="translate(476.40 90.40) scale(0.9989 1)" text-anchor="middle" font-size="8.3" font-weight="normal" fill="#2a2a2a" stroke="#2a2a2a" stroke-width="0.35">3</text>
<text transform="translate(485.80 89.35) scale(1.1007 1)" text-anchor="start" font-size="7.2" font-weight="normal" fill="#2a2a2a" stroke="#2a2a2a" stroke-width="0.28">M7 D2; M7 D3; M7 D1</text>
<text transform="translate(476.40 102.10) scale(0.9989 1)" text-anchor="middle" font-size="8.3" font-weight="normal" fill="#2a2a2a" stroke="#2a2a2a" stroke-width="0.35">4</text>
<text transform="translate(485.80 101.05) scale(1.1018 1)" text-anchor="start" font-size="7.2" font-weight="normal" fill="#2a2a2a" stroke="#2a2a2a" stroke-width="0.28">M8 D1D3</text>
<text transform="translate(476.40 113.85) scale(0.9989 1)" text-anchor="middle" font-size="8.3" font-weight="normal" fill="#2a2a2a" stroke="#2a2a2a" stroke-width="0.35">5</text>
<text transform="translate(485.80 112.80) scale(1.1500 1)" text-anchor="start" font-size="7.2" font-weight="normal" fill="#2a2a2a" stroke="#2a2a2a" stroke-width="0.28">M9</text>
<text transform="translate(476.40 137.35) scale(0.9989 1)" text-anchor="middle" font-size="8.3" font-weight="normal" fill="#2a2a2a" stroke="#2a2a2a" stroke-width="0.35">6</text>
<text transform="translate(485.80 136.30) scale(1.0954 1)" text-anchor="start" font-size="7.2" font-weight="normal" fill="#2a2a2a" stroke="#2a2a2a" stroke-width="0.28">Chitobiose (N2)</text>
<text transform="translate(476.40 149.10) scale(0.9989 1)" text-anchor="middle" font-size="8.3" font-weight="normal" fill="#2a2a2a" stroke="#2a2a2a" stroke-width="0.35">7</text>
<text transform="translate(485.80 148.05) scale(1.1249 1)" text-anchor="start" font-size="7.2" font-weight="normal" fill="#2a2a2a" stroke="#2a2a2a" stroke-width="0.28">4'-β-mannosylchitobiose (M1)</text>
<text transform="translate(476.40 160.70) scale(0.9989 1)" text-anchor="middle" font-size="8.3" font-weight="normal" fill="#2a2a2a" stroke="#2a2a2a" stroke-width="0.35">8</text>
<text transform="translate(485.80 159.65) scale(1.0436 1)" text-anchor="start" font-size="7.2" font-weight="normal" fill="#2a2a2a" stroke="#2a2a2a" stroke-width="0.28">A2G(4)2S(6)2</text>
<text transform="translate(476.40 172.40) scale(0.9989 1)" text-anchor="middle" font-size="8.3" font-weight="normal" fill="#2a2a2a" stroke="#2a2a2a" stroke-width="0.35">9</text>
<text transform="translate(485.80 171.35) scale(1.1500 1)" text-anchor="start" font-size="7.2" font-weight="normal" fill="#2a2a2a" stroke="#2a2a2a" stroke-width="0.28">M3</text>
<text transform="translate(476.40 184.10) scale(0.9649 1)" text-anchor="middle" font-size="8.3" font-weight="normal" fill="#2a2a2a" stroke="#2a2a2a" stroke-width="0.35">10</text>
<text transform="translate(485.80 183.05) scale(1.0356 1)" text-anchor="start" font-size="7.2" font-weight="normal" fill="#2a2a2a" stroke="#2a2a2a" stroke-width="0.28">A2G(4)S(6)1</text>
<text transform="translate(476.40 195.70) scale(1.0000 1)" text-anchor="middle" font-size="8.3" font-weight="normal" fill="#2a2a2a" stroke="#2a2a2a" stroke-width="0.35">11</text>
<text transform="translate(485.80 194.65) scale(1.0607 1)" text-anchor="start" font-size="7.2" font-weight="normal" fill="#2a2a2a" stroke="#2a2a2a" stroke-width="0.28">A2 (<tspan fill="#dc4235" stroke="none">G0</tspan>)</text>
<text transform="translate(476.40 207.40) scale(0.9649 1)" text-anchor="middle" font-size="8.3" font-weight="normal" fill="#2a2a2a" stroke="#2a2a2a" stroke-width="0.35">12</text>
<text transform="translate(485.80 206.35) scale(1.0341 1)" text-anchor="start" font-size="7.2" font-weight="normal" fill="#2a2a2a" stroke="#2a2a2a" stroke-width="0.28">A2B (<tspan fill="#dc4235" stroke="none">G0B</tspan>)</text>
<text transform="translate(476.40 219.10) scale(0.9649 1)" text-anchor="middle" font-size="8.3" font-weight="normal" fill="#2a2a2a" stroke="#2a2a2a" stroke-width="0.35">13</text>
<text transform="translate(485.80 218.05) scale(1.1046 1)" text-anchor="start" font-size="7.2" font-weight="normal" fill="#2a2a2a" stroke="#2a2a2a" stroke-width="0.28">A2[6]G(4)1 (<tspan fill="#dc4235" stroke="none">G1 [6]</tspan>)</text>
<text transform="translate(476.40 230.90) scale(0.9649 1)" text-anchor="middle" font-size="8.3" font-weight="normal" fill="#2a2a2a" stroke="#2a2a2a" stroke-width="0.35">14</text>
<text transform="translate(485.80 229.85) scale(1.1078 1)" text-anchor="start" font-size="7.2" font-weight="normal" fill="#2a2a2a" stroke="#2a2a2a" stroke-width="0.28">A2[3]G(4)1 (<tspan fill="#dc4235" stroke="none">G1[3]</tspan>)</text>
<text transform="translate(476.40 242.70) scale(0.9649 1)" text-anchor="middle" font-size="8.3" font-weight="normal" fill="#2a2a2a" stroke="#2a2a2a" stroke-width="0.35">15</text>
<text transform="translate(485.80 241.65) scale(1.0786 1)" text-anchor="start" font-size="7.2" font-weight="normal" fill="#2a2a2a" stroke="#2a2a2a" stroke-width="0.28">A2[6]BG(4)1 (<tspan fill="#dc4235" stroke="none">G1B [6]</tspan>)</text>
<text transform="translate(476.40 254.50) scale(0.9649 1)" text-anchor="middle" font-size="8.3" font-weight="normal" fill="#2a2a2a" stroke="#2a2a2a" stroke-width="0.35">16</text>
<text transform="translate(485.80 253.45) scale(1.0552 1)" text-anchor="start" font-size="7.2" font-weight="normal" fill="#2a2a2a" stroke="#2a2a2a" stroke-width="0.28">A2G(4)2 (<tspan fill="#dc4235" stroke="none">G2</tspan>)</text>
<text transform="translate(476.40 266.30) scale(0.9649 1)" text-anchor="middle" font-size="8.3" font-weight="normal" fill="#2a2a2a" stroke="#2a2a2a" stroke-width="0.35">17</text>
<text transform="translate(485.80 265.25) scale(1.0438 1)" text-anchor="start" font-size="7.2" font-weight="normal" fill="#2a2a2a" stroke="#2a2a2a" stroke-width="0.28">A2BG(4)2 (<tspan fill="#dc4235" stroke="none">G2B</tspan>)</text>
<text transform="translate(476.40 289.85) scale(0.9649 1)" text-anchor="middle" font-size="8.3" font-weight="normal" fill="#2a2a2a" stroke="#2a2a2a" stroke-width="0.35">18</text>
<text transform="translate(485.80 288.80) scale(1.0974 1)" text-anchor="start" font-size="7.2" font-weight="normal" fill="#2a2a2a" stroke="#2a2a2a" stroke-width="0.28">6-α-fucosyl chitobiose (F(6)N2)</text>
<text transform="translate(476.40 301.60) scale(0.9649 1)" text-anchor="middle" font-size="8.3" font-weight="normal" fill="#2a2a2a" stroke="#2a2a2a" stroke-width="0.35">19</text>
<text transform="translate(485.80 300.55) scale(1.0983 1)" text-anchor="start" font-size="7.2" font-weight="normal" fill="#2a2a2a" stroke="#2a2a2a" stroke-width="0.28">F(6)M1</text>
<text transform="translate(476.40 313.35) scale(0.9649 1)" text-anchor="middle" font-size="8.3" font-weight="normal" fill="#2a2a2a" stroke="#2a2a2a" stroke-width="0.35">20</text>
<text transform="translate(485.80 312.30) scale(1.0436 1)" text-anchor="start" font-size="7.2" font-weight="normal" fill="#2a2a2a" stroke="#2a2a2a" stroke-width="0.28">F(6)A2G(4)2S(6)2</text>
<text transform="translate(476.40 325.10) scale(0.9649 1)" text-anchor="middle" font-size="8.3" font-weight="normal" fill="#2a2a2a" stroke="#2a2a2a" stroke-width="0.35">21</text>
<text transform="translate(485.80 324.05) scale(1.0983 1)" text-anchor="start" font-size="7.2" font-weight="normal" fill="#2a2a2a" stroke="#2a2a2a" stroke-width="0.28">F(6)M3</text>
<text transform="translate(476.40 336.85) scale(0.9649 1)" text-anchor="middle" font-size="8.3" font-weight="normal" fill="#2a2a2a" stroke="#2a2a2a" stroke-width="0.35">22</text>
<text transform="translate(485.80 335.80) scale(1.0614 1)" text-anchor="start" font-size="7.2" font-weight="normal" fill="#2a2a2a" stroke="#2a2a2a" stroke-width="0.28">F(6)A2[3]G(4)1S(6)1</text>
<text transform="translate(476.40 348.50) scale(0.9649 1)" text-anchor="middle" font-size="8.3" font-weight="normal" fill="#2a2a2a" stroke="#2a2a2a" stroke-width="0.35">23</text>
<text transform="translate(485.80 347.45) scale(1.0376 1)" text-anchor="start" font-size="7.2" font-weight="normal" fill="#2a2a2a" stroke="#2a2a2a" stroke-width="0.28">F(6)A2G(4)S(6)1</text>
<text transform="translate(476.40 360.10) scale(0.9649 1)" text-anchor="middle" font-size="8.3" font-weight="normal" fill="#2a2a2a" stroke="#2a2a2a" stroke-width="0.35">24</text>
<text transform="translate(485.80 359.05) scale(1.0343 1)" text-anchor="start" font-size="7.2" font-weight="normal" fill="#2a2a2a" stroke="#2a2a2a" stroke-width="0.28">F(6)A2 (<tspan fill="#dc4235" stroke="none">G0F</tspan>)</text>
<text transform="translate(476.40 371.70) scale(0.9649 1)" text-anchor="middle" font-size="8.3" font-weight="normal" fill="#2a2a2a" stroke="#2a2a2a" stroke-width="0.35">25</text>
<text transform="translate(485.80 370.65) scale(1.0224 1)" text-anchor="start" font-size="7.2" font-weight="normal" fill="#2a2a2a" stroke="#2a2a2a" stroke-width="0.28">F(6)A2B (<tspan fill="#dc4235" stroke="none">G0FB</tspan>)</text>
<text transform="translate(476.40 383.30) scale(0.9649 1)" text-anchor="middle" font-size="8.3" font-weight="normal" fill="#2a2a2a" stroke="#2a2a2a" stroke-width="0.35">26</text>
<text transform="translate(485.80 382.25) scale(1.0831 1)" text-anchor="start" font-size="7.2" font-weight="normal" fill="#2a2a2a" stroke="#2a2a2a" stroke-width="0.28">F(6)A2[6]G(4)1 (<tspan fill="#dc4235" stroke="none">G1F[6]</tspan>)</text>
<text transform="translate(476.40 400.80) scale(0.9649 1)" text-anchor="middle" font-size="8.3" font-weight="normal" fill="#2a2a2a" stroke="#2a2a2a" stroke-width="0.35">27</text>
<text transform="translate(485.80 397.75) scale(1.0656 1)" text-anchor="start" font-size="7.2" font-weight="normal" fill="#2a2a2a" stroke="#2a2a2a" stroke-width="0.28">F(6)A2[3]G(4)1 (<tspan fill="#dc4235" stroke="none">G1F [3]</tspan>) + F(6)A2[6]BG(4)1 (<tspan fill="#dc4235" stroke="none">G1FB [6]</tspan>)</text>
<text transform="translate(476.40 412.40) scale(0.9649 1)" text-anchor="middle" font-size="8.3" font-weight="normal" fill="#2a2a2a" stroke="#2a2a2a" stroke-width="0.35">28</text>
<text transform="translate(485.80 411.35) scale(1.0391 1)" text-anchor="start" font-size="7.2" font-weight="normal" fill="#2a2a2a" stroke="#2a2a2a" stroke-width="0.28">F(6)A2G(4)2 (<tspan fill="#dc4235" stroke="none">G2F</tspan>)</text>
<text transform="translate(476.40 424.10) scale(0.9649 1)" text-anchor="middle" font-size="8.3" font-weight="normal" fill="#2a2a2a" stroke="#2a2a2a" stroke-width="0.35">29</text>
<text transform="translate(485.80 423.05) scale(1.0353 1)" text-anchor="start" font-size="7.2" font-weight="normal" fill="#2a2a2a" stroke="#2a2a2a" stroke-width="0.28">F(6)A2BG(4)2 (<tspan fill="#dc4235" stroke="none">G2FB</tspan>)</text>
</svg>
<div id="frame"></div>
</body></html>
